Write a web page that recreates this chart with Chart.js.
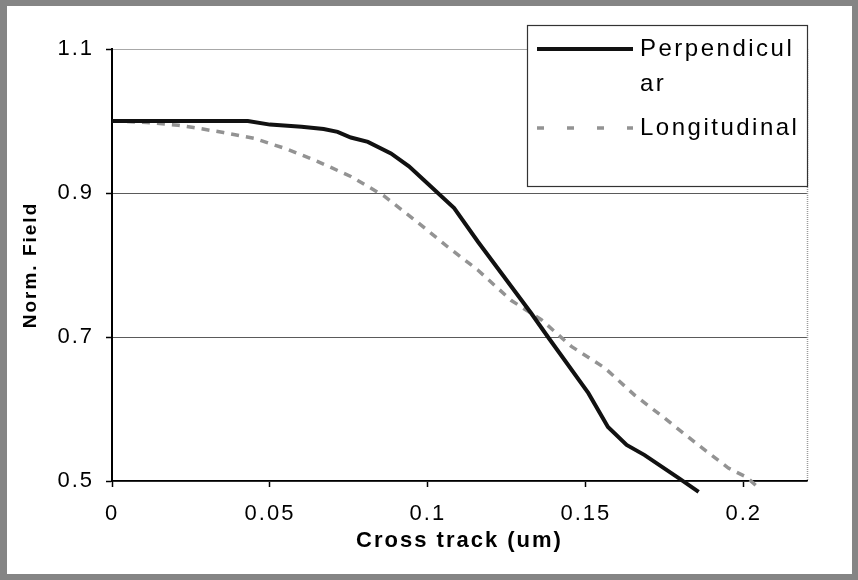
<!DOCTYPE html>
<html>
<head>
<meta charset="utf-8">
<script src="https://cdn.jsdelivr.net/npm/chart.js@4/dist/chart.umd.min.js"></script>
<style>
  html, body { margin: 0; padding: 0; background: #858585; width: 858px; height: 580px; overflow: hidden; }
  #wrap { position: absolute; left: 7px; top: 6px; width: 845px; height: 568px; background: #fff; }
  canvas { display: block; }
</style>
</head>
<body>
<div id="wrap"><canvas id="c" width="845" height="568"></canvas></div>
<script>
// ---- data ----
const seriesNames = ['Perpendicular', 'Longitudinal'];
const legendLines = [['Perpendicul', 'ar'], ['Longitudinal']];

const perpX = [0, 0.01, 0.02, 0.03, 0.04, 0.043, 0.05, 0.06, 0.067, 0.0714, 0.0756, 0.081, 0.0883, 0.094, 0.0987, 0.1083, 0.1159, 0.1327, 0.138, 0.1508, 0.157, 0.1629, 0.1686, 0.1794, 0.1857];
const perpY = [1.0, 1.0, 1.0, 1.0, 1.0, 1.0, 0.995, 0.992, 0.989, 0.985, 0.977, 0.971, 0.955, 0.937, 0.918, 0.879, 0.832, 0.733, 0.700, 0.622, 0.575, 0.550, 0.536, 0.504, 0.485];

const longX = [0, 0.011, 0.021, 0.0258, 0.0353, 0.0449, 0.0554, 0.065, 0.0756, 0.0861, 0.0957, 0.1063, 0.1158, 0.1263, 0.1359, 0.1454, 0.156, 0.1655, 0.175, 0.1856, 0.1951, 0.201, 0.2048];
const longY = [1.0, 0.998, 0.994, 0.991, 0.984, 0.976, 0.961, 0.944, 0.923, 0.896, 0.863, 0.825, 0.793, 0.751, 0.724, 0.687, 0.657, 0.619, 0.587, 0.550, 0.518, 0.505, 0.490];

const xTickValues = [0, 0.05, 0.1, 0.15, 0.2];
const yTickValues = [0.5, 0.7, 0.9, 1.1];
const xTitle = 'Cross track (um)';
const yTitle = 'Norm. Field';

const toPts = (xs, ys) => xs.map((x, i) => ({ x: x, y: ys[i] }));

const FONT = '"Liberation Sans", Arial, sans-serif';

// the scanned text in the reference is horizontally stretched: mimic with letter spacing
const spacing = {
  id: 'spacing',
  beforeDraw(chart) { chart.ctx.letterSpacing = '2px'; }
};

// plot-area right border (dotted gray), drawn under the data
const frame = {
  id: 'frame',
  beforeDatasetsDraw(chart) {
    const { ctx, chartArea: a } = chart;
    ctx.save();
    ctx.strokeStyle = '#9a9a9a';
    ctx.lineWidth = 1.5;
    ctx.setLineDash([1, 1]);
    ctx.beginPath();
    ctx.moveTo(a.right + 0.5, a.top);
    ctx.lineTo(a.right + 0.5, a.bottom);
    ctx.stroke();
    ctx.restore();
  }
};

// boxed legend overlapping the plot top-right, as in the reference
const boxLegend = {
  id: 'boxLegend',
  afterDraw(chart) {
    const { ctx, chartArea: a } = chart;
    const w = 280, h = 161;
    const left = a.right - w, top = a.top - 24;
    ctx.save();
    ctx.setLineDash([]);
    ctx.fillStyle = '#fff';
    ctx.fillRect(left, top, w, h);
    ctx.strokeStyle = '#333';
    ctx.lineWidth = 1.2;
    ctx.strokeRect(left + 0.5, top + 0.5, w, h);
    ctx.font = '24px ' + FONT;
    ctx.letterSpacing = '2.5px';
    ctx.fillStyle = '#000';
    ctx.textBaseline = 'middle';
    ctx.textAlign = 'left';
    const rows = [top + 24, top + 103];
    const dashes = [[], [7, 23]];
    chart.data.datasets.forEach((ds, i) => {
      const y = rows[i];
      ctx.strokeStyle = ds.borderColor;
      ctx.lineWidth = ds.borderWidth;
      ctx.setLineDash(dashes[i]);
      ctx.beginPath();
      ctx.moveTo(left + 10, y);
      ctx.lineTo(left + 106, y);
      ctx.stroke();
      legendLines[i].forEach((t, k) => {
        ctx.fillText(t, left + 113, y + k * 35);
      });
    });
    ctx.restore();
  }
};

new Chart(document.getElementById('c'), {
  type: 'scatter',
  data: {
    datasets: [
      {
        label: seriesNames[0],
        data: toPts(perpX, perpY),
        showLine: true,
        borderColor: '#111',
        backgroundColor: '#111',
        borderWidth: 4,
        pointRadius: 0,
        tension: 0,
        clip: false
      },
      {
        label: seriesNames[1],
        data: toPts(longX, longY),
        showLine: true,
        borderColor: '#939393',
        backgroundColor: '#939393',
        borderWidth: 3.5,
        borderDash: [8, 7],
        pointRadius: 0,
        tension: 0,
        clip: false
      }
    ]
  },
  options: {
    responsive: false,
    animation: false,
    devicePixelRatio: 1,
    layout: { padding: { left: 0, top: 43, right: 45, bottom: 0 } },
    plugins: { legend: { display: false }, tooltip: { enabled: false } },
    scales: {
      x: {
        type: 'linear',
        min: 0,
        max: 0.22,
        afterBuildTicks: s => { s.ticks = xTickValues.map(v => ({ value: v })); },
        afterFit: s => { s.height = 93; },
        ticks: {
          color: '#000',
          font: { family: FONT, size: 22 },
          padding: 14,
          maxRotation: 0,
          autoSkip: false,
          callback: v => String(+v.toFixed(2))
        },
        grid: { drawOnChartArea: false, drawTicks: true, tickLength: 6, tickColor: '#000', tickWidth: 1.5 },
        border: { display: true, color: '#000', width: 1.5 },
        title: {
          display: true,
          text: xTitle,
          color: '#000',
          font: { family: FONT, size: 22, weight: 'bold' },
          padding: { top: 0, bottom: 20 }
        }
      },
      y: {
        type: 'linear',
        min: 0.5,
        max: 1.1,
        afterBuildTicks: s => { s.ticks = yTickValues.map(v => ({ value: v })); },
        afterFit: s => { s.width = 105; },
        ticks: {
          color: '#000',
          font: { family: FONT, size: 22 },
          padding: 12,
          callback: v => String(+v.toFixed(1))
        },
        grid: {
          drawOnChartArea: true,
          drawTicks: true,
          tickLength: 6,
          tickColor: '#000',
          tickWidth: 1.5,
          lineWidth: 1,
          color: ctx => {
            const v = ctx.tick && ctx.tick.value;
            if (v !== undefined && Math.abs(v - 1.1) < 1e-6) return '#a8a8a8';
            return '#5a5a5a';
          }
        },
        border: { display: true, color: '#000', width: 2 },
        title: {
          display: true,
          text: yTitle,
          color: '#000',
          font: { family: FONT, size: 19, weight: 'bold' },
          padding: { top: 12, bottom: 0 }
        }
      }
    }
  },
  plugins: [spacing, frame, boxLegend]
});
</script>
</body>
</html>
